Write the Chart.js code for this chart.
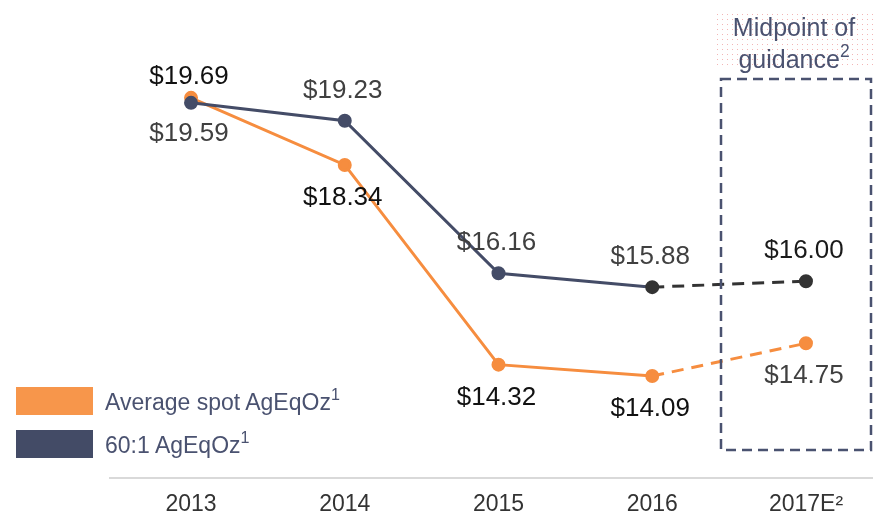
<!DOCTYPE html>
<html>
<head>
<meta charset="utf-8">
<script src="https://cdn.jsdelivr.net/npm/chart.js@4/dist/chart.umd.min.js"></script>
<style>
  html, body { margin: 0; padding: 0; background: #fff; }
  #wrap { position: relative; width: 873px; height: 525px; font-family: "Liberation Sans", Arial, sans-serif; }
  #wrap canvas { position: absolute; left: 0; top: 0; }
  .legend { position: absolute; left: 16px; top: 387px; }
  .legend-row { display: flex; align-items: center; height: 28px; margin-bottom: 15px; }
  .legend-box { width: 77px; height: 28px; margin-right: 12px; }
  .legend-text { font-size: 23px; color: #4a5270; white-space: nowrap; }
  .legend-text sup, .note sup { font-size: 0.7em; position: relative; top: -0.1em; }
  .note {
    position: absolute; left: 715px; top: 12px; width: 158px; height: 54px;
    text-align: center; color: #4a5270; font-size: 25px; line-height: 26px;
    padding-top: 2px; box-sizing: border-box;
    background-image: radial-gradient(#f3b5b5 0.8px, transparent 0.9px);
    background-size: 5px 5px;
  }
</style>
</head>
<body>
<div id="wrap">
  <canvas id="chart" width="873" height="525"></canvas>
  <div class="note">Midpoint of<br>guidance<sup>2</sup></div>
  <div class="legend" id="legend"></div>
</div>
<script>
// 카테고리 + 시리즈 값
const YEARS = ['2013', '2014', '2015', '2016', '2017E²'];
const AVG_SPOT = [19.69, 18.34, 14.32, 14.09, 14.75];
const RATIO_60 = [19.59, 19.23, 16.16, 15.88, 16.00];
const SERIES_NAMES = ['Average spot AgEqOz', '60:1 AgEqOz'];

const ORANGE = '#F68D3F';
const NAVY = '#444C67';
const DARK = '#333333';
const DASH = [12, 8];
const LABEL_FONT = '26px "Liberation Sans", Arial, sans-serif';

const toPoints = (arr) => arr.map((v, i) => ({ x: i, y: v }));
const lastIdx = YEARS.length - 1;

// 라벨 위치/색상: 주황은 첫 점만 위, 남색은 첫 점만 아래
const labelStyle = {
  0: { dy: (i) => (i === 0 ? -21 : 33), color: (i) => (i === lastIdx ? '#404040' : '#111111') },
  1: { dy: (i) => (i === 0 ? 31 : -30), color: (i) => (i === lastIdx ? '#1a1a1a' : '#404040') },
};

const dataLabels = {
  id: 'dataLabels',
  afterDatasetsDraw(chart) {
    const { ctx } = chart;
    ctx.save();
    ctx.font = LABEL_FONT;
    ctx.textAlign = 'center';
    ctx.textBaseline = 'middle';
    chart.data.datasets.forEach((ds, di) => {
      const st = labelStyle[di];
      chart.getDatasetMeta(di).data.forEach((pt, i) => {
        ctx.fillStyle = st.color(i);
        ctx.fillText('$' + ds.data[i].y.toFixed(2), pt.x - 2, pt.y + st.dy(i));
      });
    });
    ctx.restore();
  },
};

// 2017E 가이던스 점선 박스
const guidanceBox = {
  id: 'guidanceBox',
  afterDraw(chart) {
    const { ctx } = chart;
    ctx.save();
    ctx.strokeStyle = '#4a5270';
    ctx.lineWidth = 2.5;
    ctx.setLineDash([10, 6]);
    ctx.strokeRect(721, 79, 150, 371);
    ctx.restore();
  },
};

const segDash = (c) => (c.p0DataIndex === lastIdx - 1 ? DASH : undefined);

new Chart(document.getElementById('chart'), {
  type: 'line',
  data: {
    datasets: [
      {
        label: SERIES_NAMES[0],
        data: toPoints(AVG_SPOT),
        order: 1,
        borderColor: ORANGE,
        backgroundColor: ORANGE,
        pointBackgroundColor: ORANGE,
        pointBorderColor: ORANGE,
        borderWidth: 3,
        pointRadius: 5.5,
        segment: { borderDash: segDash },
      },
      {
        label: SERIES_NAMES[1],
        data: toPoints(RATIO_60),
        order: 0, // 남색 선이 위에 그려지도록
        borderColor: NAVY,
        backgroundColor: NAVY,
        pointBackgroundColor: RATIO_60.map((_, i) => (i >= lastIdx - 1 ? DARK : NAVY)),
        pointBorderColor: RATIO_60.map((_, i) => (i >= lastIdx - 1 ? DARK : NAVY)),
        borderWidth: 3,
        pointRadius: 5.5,
        segment: {
          borderDash: segDash,
          borderColor: (c) => (c.p0DataIndex === lastIdx - 1 ? DARK : undefined),
        },
      },
    ],
  },
  options: {
    responsive: false,
    animation: false,
    layout: { autoPadding: false, padding: { left: 110, right: 0, top: 0, bottom: -5 } },
    plugins: { legend: { display: false }, tooltip: { enabled: false } },
    scales: {
      x: {
        type: 'linear',
        min: -0.527,
        max: 4.436,
        afterBuildTicks: (axis) => { axis.ticks = YEARS.map((_, i) => ({ value: i })); },
        grid: { display: false, drawTicks: false },
        border: { display: true, color: '#d9d9d9', width: 2 },
        ticks: {
          padding: 12,
          color: '#333333',
          font: { family: '"Liberation Sans", Arial', size: 23 },
          callback: (v) => YEARS[v] ?? '',
        },
      },
      y: { display: false, min: 12.03, max: 21.66 },
    },
  },
  plugins: [dataLabels, guidanceBox],
});

// 범례 (HTML)
const legendColors = ['#F7964B', '#434B66'];
document.getElementById('legend').innerHTML = SERIES_NAMES.map((n, i) => `
  <div class="legend-row">
    <div class="legend-box" style="background:${legendColors[i]}"></div>
    <div class="legend-text">${n}<sup>1</sup></div>
  </div>`).join('');
</script>
</body>
</html>
